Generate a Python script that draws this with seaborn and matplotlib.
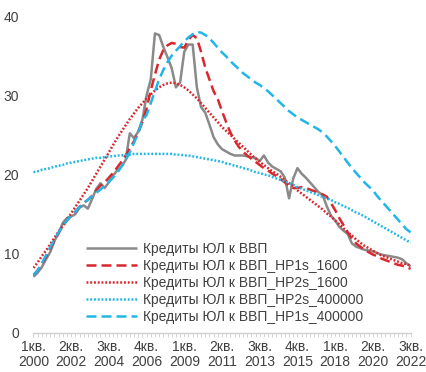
import numpy as np
import pandas as pd
import matplotlib
matplotlib.use("Agg")
import matplotlib.pyplot as plt
import seaborn as sns

sns.set_theme(style="white")
plt.rcParams['font.family'] = ['Liberation Sans', 'DejaVu Sans']

# Quarterly data 2000Q1 .. 2022Q3 (91 quarters)
tick_labels = ["1кв.\n2000", "2кв.\n2002", "3кв.\n2004", "4кв.\n2006", "1кв.\n2009",
               "2кв.\n2011", "3кв.\n2013", "4кв.\n2015", "1кв.\n2018", "2кв.\n2020", "3кв.\n2022"]

actual = [7.1, 7.6, 8.3, 9.3, 10.2, 11.6, 12.6, 13.9, 14.5, 14.7,
          15.0, 15.8, 16.1, 15.7, 16.9, 18.2, 18.9, 18.3, 19.0, 19.9,
          20.5, 21.0, 21.8, 25.2, 24.6, 25.4, 26.9, 30.0, 32.0, 37.8,
          37.6, 36.1, 34.8, 33.4, 31.0, 31.6, 35.5, 36.4, 36.4, 31.0,
          28.5, 27.8, 26.3, 24.7, 23.8, 23.2, 22.9, 22.6, 22.4, 22.4,
          22.4, 22.3, 22.2, 22.1, 21.7, 22.4, 21.5, 21.0, 20.7, 20.4,
          19.6, 17.0, 19.5, 20.8, 20.1, 19.6, 19.0, 18.4, 17.8, 17.4,
          16.0, 14.8, 14.2, 13.4, 12.9, 12.5, 11.3, 10.9, 10.7, 10.5,
          10.4, 10.3, 10.1, 9.9, 9.8, 9.7, 9.6, 9.5, 9.3, 8.8,
          8.4]

hp1s_1600 = [7.3, 7.9, 8.7, 9.6, 10.6, 11.6, 12.6, 13.5, 14.2, 14.8,
             15.3, 15.9, 16.4, 16.8, 17.3, 18.0, 18.6, 19.0, 19.6, 20.2,
             20.9, 21.6, 22.4, 23.3, 24.2, 25.3, 26.6, 28.3, 30.6, 32.6,
             34.5, 35.7, 36.3, 36.6, 36.5, 36.1, 36.0, 37.0, 37.6, 37.2,
             35.5, 33.5, 32.0, 30.5, 29.5, 28.0, 26.6, 25.3, 24.3, 23.5,
             22.9, 22.4, 22.0, 21.6, 21.2, 20.8, 20.5, 20.1, 19.8, 19.4,
             19.0, 18.6, 18.3, 18.3, 18.4, 18.3, 18.1, 17.9, 17.7, 17.5,
             17.2, 16.4, 15.5, 14.5, 13.6, 12.7, 11.9, 11.3, 10.9, 10.5,
             10.2, 9.9, 9.7, 9.4, 9.2, 9.0, 8.8, 8.6, 8.5, 8.3,
             8.1]

hp2s_1600 = [8.2, 8.9, 9.7, 10.4, 11.2, 12.0, 12.8, 13.5, 14.3, 15.1,
             15.9, 16.7, 17.5, 18.3, 19.2, 20.1, 21.0, 21.9, 22.8, 23.7,
             24.6, 25.4, 26.2, 27.0, 27.7, 28.4, 29.0, 29.6, 30.1, 30.6,
             31.0, 31.3, 31.5, 31.6, 31.5, 31.3, 31.0, 30.6, 30.1, 29.6,
             29.0, 28.4, 27.8, 27.2, 26.6, 26.0, 25.5, 25.0, 24.5, 24.0,
             23.5, 23.0, 22.5, 22.0, 21.6, 21.2, 20.8, 20.4, 20.1, 19.7,
             19.3, 18.9, 18.5, 18.0, 17.6, 17.2, 16.8, 16.4, 16.0, 15.6,
             15.1, 14.7, 14.2, 13.7, 13.2, 12.7, 12.3, 11.8, 11.4, 11.0,
             10.7, 10.4, 10.1, 9.8, 9.6, 9.4, 9.2, 9.0, 8.8, 8.7,
             8.5]

hp2s_400000 = [20.3, 20.4, 20.6, 20.7, 20.8, 21.0, 21.1, 21.2, 21.4, 21.5,
               21.6, 21.7, 21.8, 21.9, 22.0, 22.1, 22.1, 22.2, 22.3, 22.3,
               22.4, 22.4, 22.5, 22.5, 22.6, 22.6, 22.6, 22.6, 22.6, 22.6,
               22.6, 22.6, 22.6, 22.6, 22.5, 22.5, 22.4, 22.4, 22.3, 22.2,
               22.1, 22.0, 21.9, 21.8, 21.7, 21.6, 21.4, 21.3, 21.1, 21.0,
               20.8, 20.7, 20.5, 20.3, 20.2, 20.0, 19.9, 19.7, 19.5, 19.3,
               19.1, 18.9, 18.7, 18.4, 18.2, 18.0, 17.8, 17.6, 17.4, 17.2,
               17.0, 16.8, 16.5, 16.3, 16.0, 15.8, 15.5, 15.2, 15.0, 14.7,
               14.4, 14.1, 13.8, 13.5, 13.2, 12.9, 12.6, 12.3, 12.0, 11.7,
               11.4]

hp1s_400000 = [7.3, 7.9, 8.8, 9.8, 10.8, 11.8, 12.7, 13.5, 14.2, 14.8,
               15.3, 15.9, 16.4, 16.8, 17.3, 17.7, 18.1, 18.6, 19.1, 19.6,
               20.2, 21.0, 21.8, 22.8, 24.0, 25.2, 26.8, 27.5, 29.0, 30.5,
               32.0, 33.2, 34.2, 35.0, 35.6, 36.2, 36.8, 37.3, 37.7, 38.0,
               37.9, 37.6, 37.2, 36.6, 36.0, 35.4, 34.9, 34.3, 33.8, 33.3,
               32.8, 32.4, 32.0, 31.6, 31.3, 30.9, 30.5, 30.0, 29.5, 29.0,
               28.5, 28.0, 27.6, 27.2, 26.9, 26.6, 26.3, 26.0, 25.7, 25.3,
               24.8, 24.2, 23.6, 22.9, 22.2, 21.5, 20.8, 20.2, 19.6, 19.0,
               18.5, 18.0, 17.3, 16.7, 16.1, 15.5, 14.9, 14.3, 13.7, 13.1,
               12.7]

names = ["Кредиты ЮЛ к ВВП", "Кредиты ЮЛ к ВВП_HP1s_1600", "Кредиты ЮЛ к ВВП_HP2s_1600",
         "Кредиты ЮЛ к ВВП_HP2s_400000", "Кредиты ЮЛ к ВВП_HP1s_400000"]
series = [actual, hp1s_1600, hp2s_1600, hp2s_400000, hp1s_400000]

GRAY = "#8a8a8a"
RED = "#d8272d"
BLUE = "#21b6e8"
styles = [
    dict(color=GRAY, linestyle="-"),
    dict(color=RED, linestyle=(0, (4, 2))),
    dict(color=RED, linestyle=(0, (0.75, 0.75))),
    dict(color=BLUE, linestyle=(0, (0.75, 0.75))),
    dict(color=BLUE, linestyle=(0, (4, 2))),
]

fig = plt.figure(figsize=(4.27, 3.72), dpi=100)
ax = fig.add_axes([33 / 427, 1 - 333 / 372, (411 - 33) / 427, (333 - 16) / 372])

q = np.arange(len(actual))
for name, vals, st in zip(names, series, styles):
    df = pd.DataFrame({"q": q, "v": vals})
    sns.lineplot(data=df, x="q", y="v", ax=ax, label=name, linewidth=1.8,
                 solid_capstyle="butt", dash_capstyle="butt", **st)

ax.set_xlim(-0.1, 90.1)
ax.set_ylim(0, 40)
ax.set_xlabel("")
ax.set_ylabel("")
ax.set_yticks([0, 10, 20, 30, 40])
ax.set_xticks(np.arange(0, 91, 9))
ax.set_xticklabels(tick_labels, linespacing=1.1)
ax.set_xticks(q, minor=True)
for s in ["top", "right", "left"]:
    ax.spines[s].set_visible(False)
ax.spines["bottom"].set_color("#d0d0d0")
ax.spines["bottom"].set_linewidth(1.0)
ax.tick_params(axis="y", length=0, pad=10, labelsize=10, labelcolor="#404040")
ax.tick_params(axis="x", which="both", direction="out", length=3, width=0.6,
               color="#d0d0d0", labelsize=10, labelcolor="#404040", pad=2, bottom=True)
ax.grid(False)

leg = ax.legend(loc="upper left", bbox_to_anchor=(86 / 427, 1 - 242 / 372),
                bbox_transform=fig.transFigure, frameon=False, fontsize=10,
                handlelength=3.7, handletextpad=0.4, labelspacing=0.22,
                borderpad=0, borderaxespad=0)
for t in leg.get_texts():
    t.set_color("#404040")

fig.savefig("out.png", dpi=100)
